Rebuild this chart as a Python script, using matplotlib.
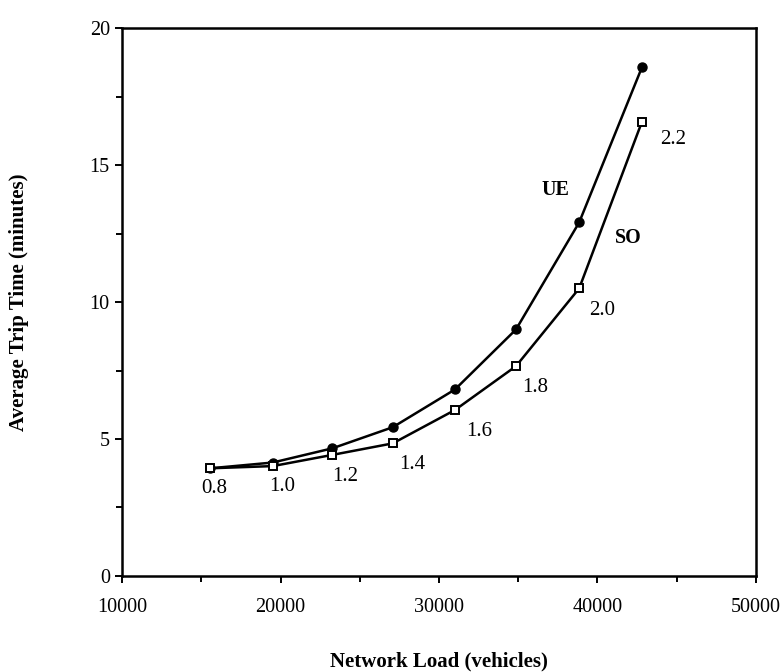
import matplotlib.pyplot as plt
from matplotlib.ticker import MultipleLocator

# Data
demand_factor = ["0.8", "1.0", "1.2", "1.4", "1.6", "1.8", "2.0", "2.2"]
network_load = [15550, 19500, 23270, 27080, 31010, 34860, 38850, 42810]
ue_time = [3.93, 4.14, 4.66, 5.43, 6.81, 9.00, 12.91, 18.57]
so_time = [3.93, 4.01, 4.42, 4.84, 6.06, 7.66, 10.50, 16.58]

# label positions for demand factors (data coords)
label_x = [15820, 20080, 24070, 28280, 32520, 36060, 40270, 44780]
label_y = [3.18, 3.26, 3.62, 4.05, 5.27, 6.89, 9.71, 15.94]

plt.rcParams['font.family'] = ['Liberation Serif', 'DejaVu Serif']

fig = plt.figure(figsize=(7.84, 6.72), dpi=100)
ax = fig.add_axes([0.156, 0.143, 0.808, 0.815])

ax.plot(network_load, ue_time, color='black', linewidth=1.8,
        marker='o', markersize=6.5, markerfacecolor='black', zorder=3)
ax.plot(network_load, so_time, color='black', linewidth=1.8,
        marker='s', markersize=6, markerfacecolor='white',
        markeredgewidth=1.4, zorder=4)

for lab, lx, ly in zip(demand_factor, label_x, label_y):
    ax.text(lx, ly, lab, fontsize=15, ha='center', va='center')

ax.text(37320, 14.09, 'UE', fontsize=14.5, fontweight='bold', ha='center', va='center')
ax.text(41940, 12.35, 'SO', fontsize=14.5, fontweight='bold', ha='center', va='center')

ax.set_xlim(10000, 50000)
ax.set_ylim(0, 20)
ax.xaxis.set_major_locator(MultipleLocator(10000))
ax.xaxis.set_minor_locator(MultipleLocator(5000))
ax.yaxis.set_major_locator(MultipleLocator(5))
ax.yaxis.set_minor_locator(MultipleLocator(2.5))
ax.tick_params(which='both', direction='out', width=1.4, labelsize=14.5)
ax.tick_params(which='major', length=5)
ax.tick_params(which='minor', length=4.5)
ax.tick_params(axis='x', which='major', pad=11)
ax.tick_params(axis='y', which='major', pad=4)

for s in ax.spines.values():
    s.set_linewidth(1.8)

ax.set_xlabel('Network Load (vehicles)', fontsize=15, fontweight='bold', labelpad=25)
ax.set_ylabel('Average Trip Time (minutes)', fontsize=15, fontweight='bold', labelpad=44)

plt.savefig('out.png', dpi=100)
